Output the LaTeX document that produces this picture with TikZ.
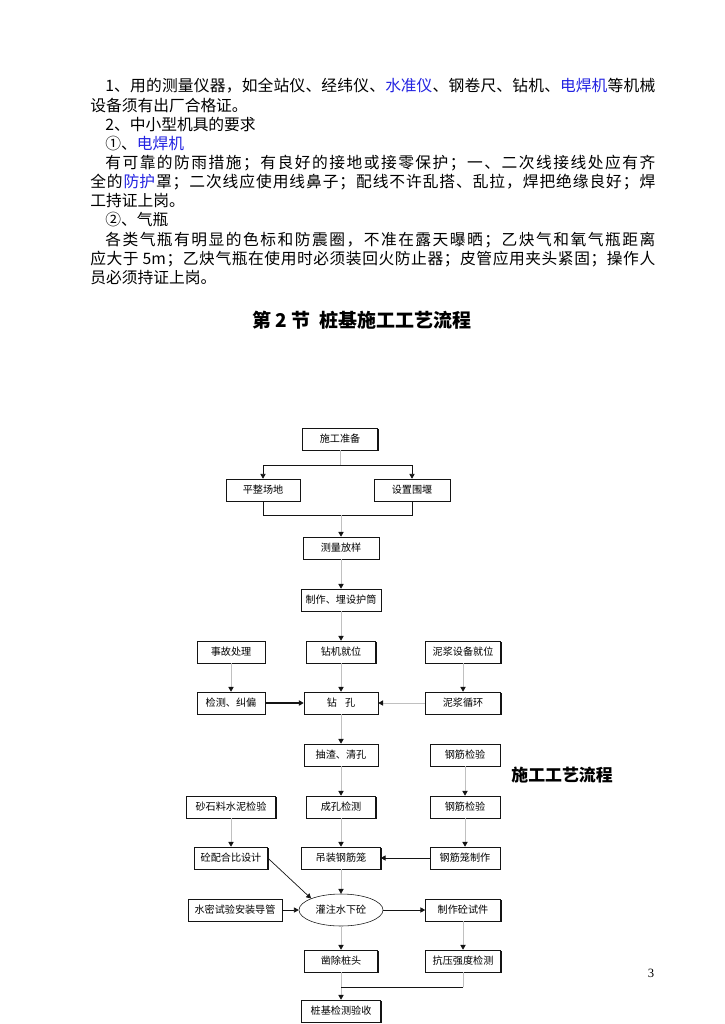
\documentclass[tikz,border=0pt]{standalone}
\usepackage{fontspec}
\setmainfont{Noto Sans CJK SC}
\newfontfamily\pagefont{Liberation Serif}
\usetikzlibrary{arrows.meta,shapes.geometric,shadows}
\definecolor{linkblue}{RGB}{35,35,225}
\definecolor{ink}{RGB}{20,20,20}
\definecolor{rule}{RGB}{192,192,192}
\newcommand\bl[1]{{\color{linkblue}#1}}
% spread the characters of one line over a given width
\ExplSyntaxOn
\NewDocumentCommand\fillline{mm}{\hbox~to~#1{\tl_map_inline:nn{#2}{##1\hfil}\unskip}}
\ExplSyntaxOff
\tikzset{
  body/.style={anchor=west, inner sep=0pt, font=\fontsize{11.2pt}{14pt}\selectfont},
  proc/.style={draw=ink, fill=white, minimum height=5.5mm, inner sep=0pt,
    font=\fontsize{7.2pt}{8pt}\selectfont,
    drop shadow={shadow xshift=.3mm, shadow yshift=-.3mm, fill=ink, opacity=1}},
  pourshape/.style={ellipse, draw=ink, fill=white, minimum width=21mm, minimum height=8mm,
    inner sep=0pt, font=\fontsize{7.2pt}{8pt}\selectfont},
  gline/.style={draw=rule, line width=.7pt},
  bline/.style={draw=ink, line width=.5pt},
  arr/.style={-{Triangle[length=1.2mm,width=1.3mm,color=ink,fill=ink]}}
}
\begin{document}
\begin{tikzpicture}[x=0.25mm,y=-0.25mm]
  \useasboundingbox (0,0) rectangle (724,1024);
  % text above the chart
  \node[body] (l1) at (105,86) {\fillline{137.5mm}{1、用的测量仪器，如全站仪、经纬仪、{\bl{水准仪}}、钢卷尺、钻机、{\bl{电焊机}}等机械}};
  \node[body] (l2) at (90,106) {设备须有出厂合格证。};
  \node[body] (l3) at (105,125) {2、中小型机具的要求};
  \node[body] (l4) at (105,144) {①、\bl{电焊机}};
  \node[body] (l5) at (105,163) {\fillline{137.5mm}{有可靠的防雨措施；有良好的接地或接零保护；一、二次线接线处应有齐}};
  \node[body] (l6) at (90,182) {\fillline{141.25mm}{全的{\bl{防护}}罩；二次线应使用线鼻子；配线不许乱搭、乱拉，焊把绝缘良好；焊}};
  \node[body] (l7) at (90,201) {工持证上岗。};
  \node[body] (l8) at (105,220) {②、气瓶};
  \node[body] (l9) at (105,240) {\fillline{137.5mm}{各类气瓶有明显的色标和防震圈，不准在露天曝晒；乙炔气和氧气瓶距离}};
  \node[body] (l10) at (90,259) {\fillline{141.25mm}{应大于{\ 5m}；乙炔气瓶在使用时必须装回火防止器；皮管应用夹头紧固；操作人}};
  \node[body] (l11) at (90,278) {员必须持证上岗。};
  \node[font=\fontsize{13.5pt}{16pt}\selectfont\bfseries] (title) at (362,320) {第 2 节\ \ 桩基施工工艺流程};
  \node[font=\fontsize{12pt}{14pt}\selectfont\bfseries] (caption) at (562,775) {施工工艺流程};
  \node[font=\pagefont\fontsize{9pt}{10pt}\selectfont] (pageno) at (651,973) {3};

  % chart
  \node[proc, minimum width=18.75mm] (prep) at (340,439) {施工准备};
  \node[proc, minimum width=18.5mm] (level) at (263,490) {平整场地};
  \node[proc, minimum width=19mm] (wall) at (412,490) {设置围堰};
  \node[proc, minimum width=19mm] (survey) at (341,548) {测量放样};
  \node[proc, minimum width=20mm] (casing) at (341,600) {制作、埋设护筒};
  \node[proc, minimum width=17mm] (fault) at (231,652) {事故处理};
  \node[proc, minimum width=17.25mm] (rig) at (341,652) {钻机就位};
  \node[proc, minimum width=18.75mm] (mudset) at (463,652) {泥浆设备就位};
  \node[proc, minimum width=17mm] (fix) at (231,703) {检测、纠偏};
  \node[proc, minimum width=18.5mm] (drill) at (341,703) {钻\hspace{0.8em}孔};
  \node[proc, minimum width=18.75mm] (mudrun) at (463,703) {泥浆循环};
  \node[proc, minimum width=18.5mm] (clean) at (341,755) {抽渣、清孔};
  \node[proc, minimum width=17.5mm] (rebarA) at (465,755) {钢筋检验};
  \node[proc, minimum width=22.25mm] (sand) at (231,807) {砂石料水泥检验};
  \node[proc, minimum width=17.25mm] (holechk) at (341,807) {成孔检测};
  \node[proc, minimum width=17.5mm] (rebarB) at (465,807) {钢筋检验};
  \node[proc, minimum width=18.25mm] (mix) at (231,858) {砼配合比设计};
  \node[proc, minimum width=19.75mm] (cage) at (341,858) {吊装钢筋笼};
  \node[proc, minimum width=17.5mm] (cagemk) at (465,858) {钢筋笼制作};
  \node[proc, minimum width=23.5mm] (tube) at (235,910) {水密试验安装导管};
  \node[pourshape] (concrete) at (341,910) {灌注水下砼};
  \node[proc, minimum width=18.75mm] (sample) at (463,910) {制作砼试件};
  \node[proc, minimum width=18.25mm] (trim) at (341,961) {凿除桩头};
  \node[proc, minimum width=18.75mm] (strength) at (463,961) {抗压强度检测};
  \node[proc, minimum width=19.75mm] (accept) at (341,1011) {桩基检测验收};

  \coordinate (split) at (340,465);
  \coordinate (merge) at (341,515);
  \coordinate (meet) at (341,987);

  \draw[gline] (prep) -- (split);
  \draw[bline,arr] (split) -| (level);
  \draw[bline,arr] (split) -| (wall);
  \draw[bline] (level) |- (merge);
  \draw[bline] (wall) |- (merge);
  \draw[gline,arr] (merge) -- (survey);
  \foreach \a/\b in {survey/casing, casing/rig, rig/drill, drill/clean, clean/holechk,
      holechk/cage, cage/concrete, concrete/trim, trim/accept, fault/fix, mudset/mudrun,
      rebarA/rebarB, rebarB/cagemk, sand/mix, sample/strength}
    \draw[gline,arr] (\a) -- (\b);
  \draw[bline,arr,line width=.9pt] (fix) -- (drill);
  \draw[gline,arr] (mudrun) -- (drill);
  \draw[bline,arr] (cagemk) -- (cage);
  \draw[bline,arr] (mix.east) -- (concrete.north west);
  \draw[bline,arr] (tube) -- (concrete);
  \draw[bline,arr] (concrete) -- (sample);
  \draw[gline] (strength) -- (strength |- meet);
  \draw[bline] (strength |- meet) -- (meet);
\end{tikzpicture}
\end{document}
